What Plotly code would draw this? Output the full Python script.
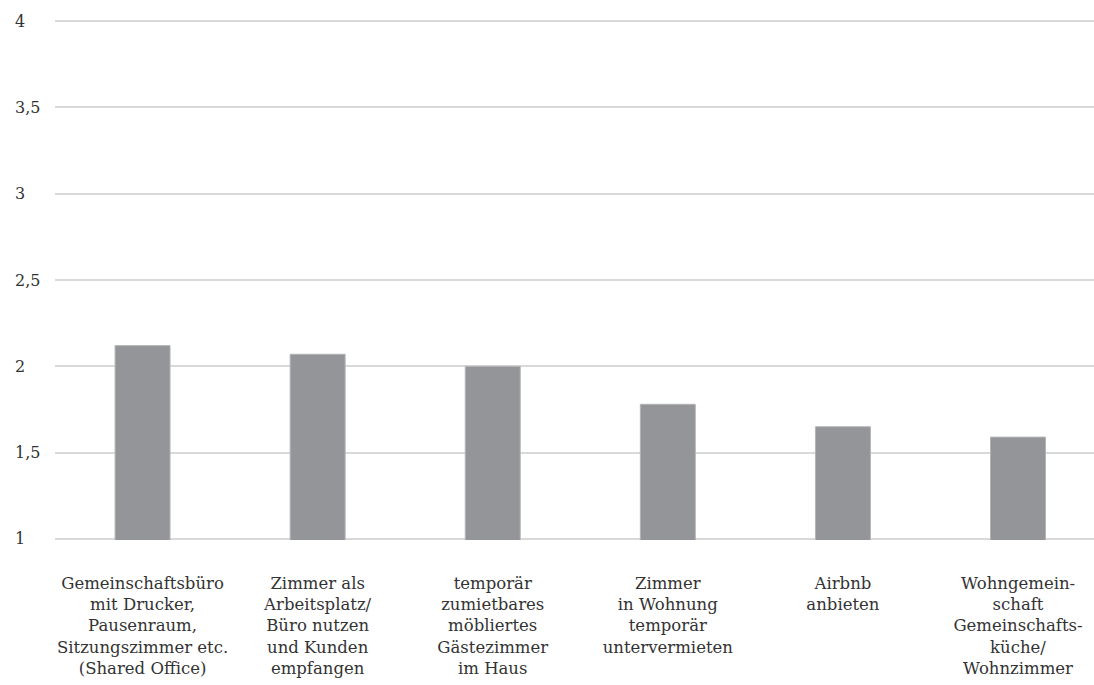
import plotly.graph_objects as go

# Kategorien (Zeilenumbrüche wie in der Beschriftung)
categories = [
    "Gemeinschaftsbüro<br>mit Drucker,<br>Pausenraum,<br>Sitzungszimmer etc.<br>(Shared Office)",
    "Zimmer als<br>Arbeitsplatz/<br>Büro nutzen<br>und Kunden<br>empfangen",
    "temporär<br>zumietbares<br>möbliertes<br>Gästezimmer<br>im Haus",
    "Zimmer<br>in Wohnung<br>temporär<br>untervermieten",
    "Airbnb<br>anbieten",
    "Wohngemein-<br>schaft<br>Gemeinschafts-<br>küche/<br>Wohnzimmer",
]
values = [2.12, 2.07, 2.00, 1.78, 1.65, 1.59]

y_tick_values = [1, 1.5, 2, 2.5, 3, 3.5, 4]
y_tick_labels = ["1", "1,5", "2", "2,5", "3", "3,5", "4"]

FONT = "DejaVu Serif"
TEXT_COLOR = "#333333"
GRID_COLOR = "#d9d9d9"
BAR_COLOR = "#939598"

W, H = 1094, 685
PAD = 0.006  # kleiner Puffer, damit die Gitterlinien bei 1 und 4 sichtbar bleiben
PX_PER_UNIT = 172.6
M_L, M_R = 55, 0
M_T = 21 - PAD * PX_PER_UNIT
M_B = 146 - PAD * PX_PER_UNIT

fig = go.Figure(
    go.Bar(
        x=list(range(len(categories))),
        y=values,
        width=0.314,
        marker=dict(color=BAR_COLOR, line=dict(color="#b4b5b7", width=1)),
        hoverinfo="skip",
    )
)

fig.update_layout(
    width=W,
    height=H,
    margin=dict(l=M_L, r=M_R, t=M_T, b=M_B, pad=0),
    paper_bgcolor="white",
    plot_bgcolor="white",
    showlegend=False,
    font=dict(family=FONT, size=16, color=TEXT_COLOR),
    xaxis=dict(
        range=[-0.5, 5.434],
        tickmode="array",
        tickvals=list(range(len(categories))),
        ticktext=categories,
        ticks="",
        showgrid=False,
        zeroline=False,
        showline=False,
        ticklabelstandoff=31,
        tickfont=dict(family=FONT, size=16.5, color=TEXT_COLOR),
        fixedrange=True,
    ),
    yaxis=dict(
        range=[1 - PAD, 4 + PAD],
        tickmode="array",
        tickvals=y_tick_values,
        showticklabels=False,
        showgrid=True,
        gridcolor=GRID_COLOR,
        gridwidth=2,
        zeroline=False,
        showline=False,
        fixedrange=True,
    ),
)

# Y-Achsenbeschriftung linksbündig am Bildrand
label_x = (13 - M_L) / (W - M_L - M_R)
for v, t in zip(y_tick_values, y_tick_labels):
    fig.add_annotation(
        x=label_x,
        xref="paper",
        xanchor="left",
        y=v,
        yref="y",
        yanchor="middle",
        text=t,
        showarrow=False,
        font=dict(family=FONT, size=16, color=TEXT_COLOR),
    )

fig.write_html("out.html")
